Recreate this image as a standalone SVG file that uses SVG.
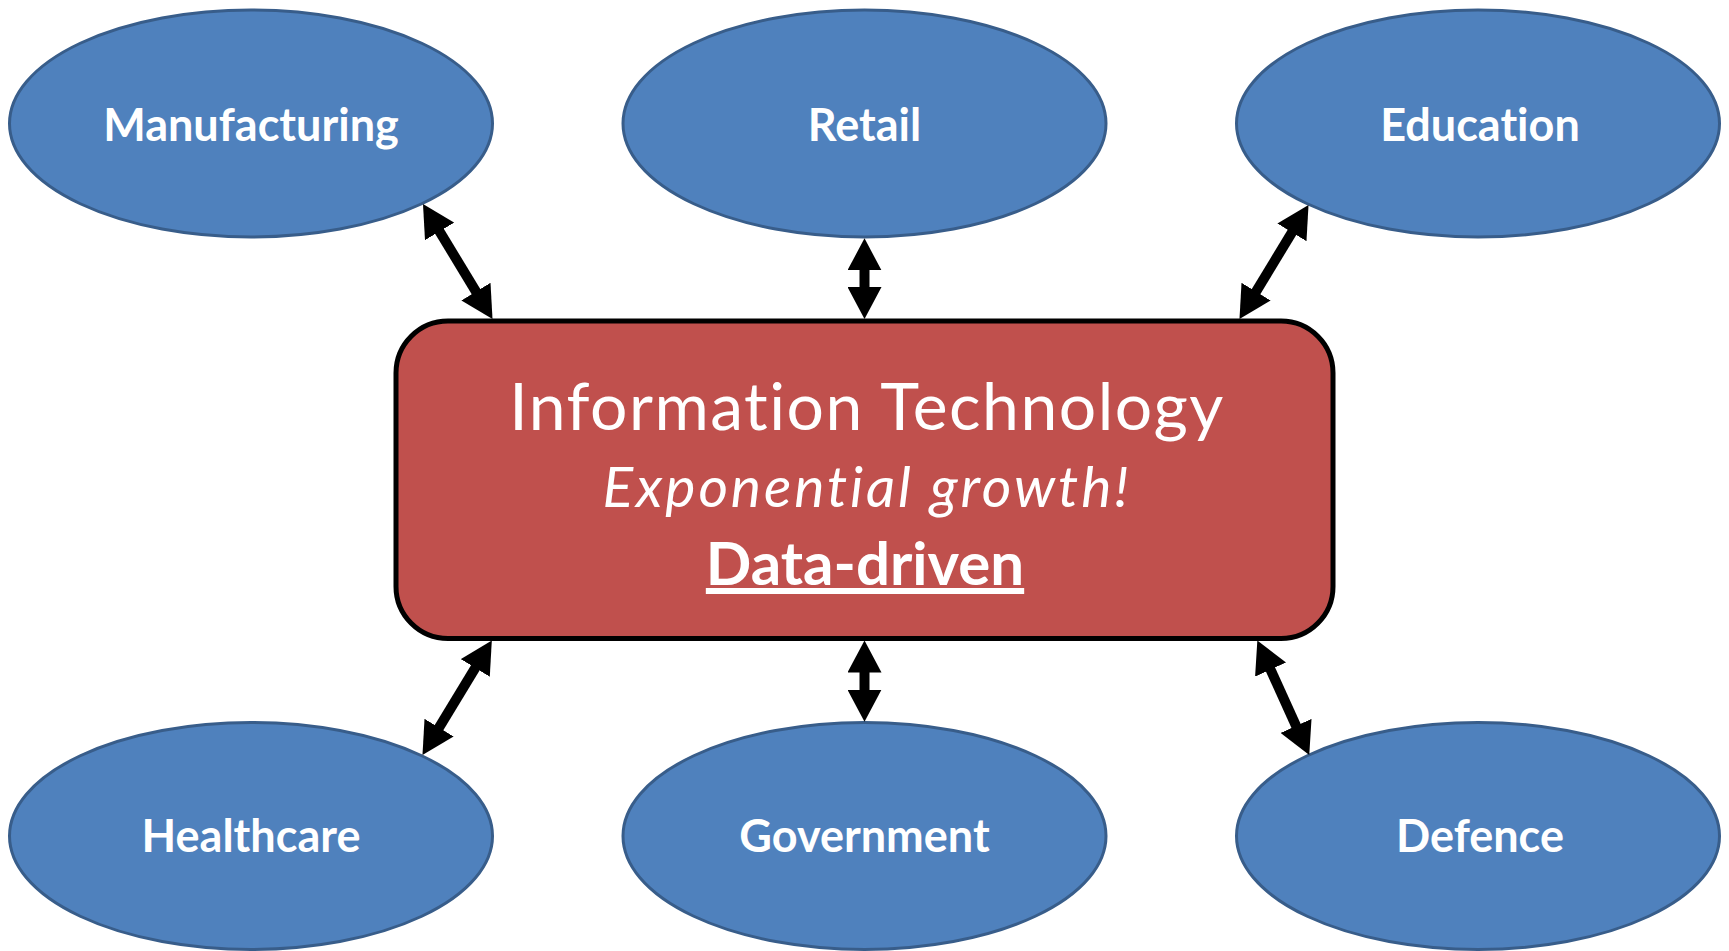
<svg xmlns="http://www.w3.org/2000/svg" width="1729" height="951" viewBox="0 0 1729 951">
  <style>
    text { font-variant-ligatures: none; font-feature-settings: "liga" 0, "clig" 0; }
    .sector ellipse { fill: #4F81BD; stroke: #385D8A; stroke-width: 3; }
    .sector text { fill: #FFFFFF; font-family: Lato, "Open Sans", "Liberation Sans", sans-serif; font-weight: 700; font-size: 45px; text-anchor: middle; }
    .core rect { fill: #C0504D; stroke: #000000; stroke-width: 5; }
    .core text { fill: #FFFFFF; font-family: Lato, "Open Sans", "Liberation Sans", sans-serif; text-anchor: middle; }
    .conn line { stroke: #000000; stroke-width: 10; fill: none; marker-start: url(#head); marker-end: url(#head); }
  </style>
  <defs>
    <marker id="head" markerUnits="userSpaceOnUse" viewBox="0 0 32 34" markerWidth="32" markerHeight="34" refX="20" refY="17" orient="auto-start-reverse">
      <path d="M0,0 L32,17 L0,34 Z" fill="#000000"/>
    </marker>
  </defs>
  <rect x="0" y="0" width="1729" height="951" fill="#FFFFFF"/>

  <g id="manufacturing" class="sector">
    <ellipse cx="251" cy="123.5" rx="241.5" ry="113.5"/>
    <text x="251" y="141">Manufacturing</text>
  </g>
  <g id="retail" class="sector">
    <ellipse cx="864.5" cy="123.5" rx="241.5" ry="113.5"/>
    <text x="864.5" y="141">Retail</text>
  </g>
  <g id="education" class="sector">
    <ellipse cx="1478" cy="123.5" rx="241.5" ry="113.5"/>
    <text x="1480" y="141">Education</text>
  </g>
  <g id="healthcare" class="sector">
    <ellipse cx="251" cy="836" rx="241.5" ry="113.5"/>
    <text x="251" y="852">Healthcare</text>
  </g>
  <g id="government" class="sector">
    <ellipse cx="864.5" cy="836" rx="241.5" ry="113.5"/>
    <text x="864.5" y="852">Government</text>
  </g>
  <g id="defence" class="sector">
    <ellipse cx="1478" cy="836" rx="241.5" ry="113.5"/>
    <text x="1480" y="852">Defence</text>
  </g>

  <g id="information-technology" class="core">
    <rect x="396" y="321" width="937" height="317.5" rx="52" ry="52"/>
    <text x="867" y="430" font-size="66" letter-spacing="1.5">Information Technology</text>
    <text x="867" y="507" font-size="57" font-style="italic" letter-spacing="2.9">Exponential growth!</text>
    <text x="865" y="585" font-size="60" font-weight="700" text-decoration="underline">Data-driven</text>
  </g>

  <g id="connectors" class="conn">
    <line x1="429.2" y1="214.3" x2="486.3" y2="308.7"/>
    <line x1="864.5" y1="250.3" x2="864.5" y2="307"/>
    <line x1="1302.3" y1="215.3" x2="1245.7" y2="308.7"/>
    <line x1="485.6" y1="650.8" x2="428.7" y2="744.7"/>
    <line x1="864.5" y1="652.5" x2="864.5" y2="709.7"/>
    <line x1="1262.3" y1="651.4" x2="1304.3" y2="744.1"/>
  </g>
</svg>
